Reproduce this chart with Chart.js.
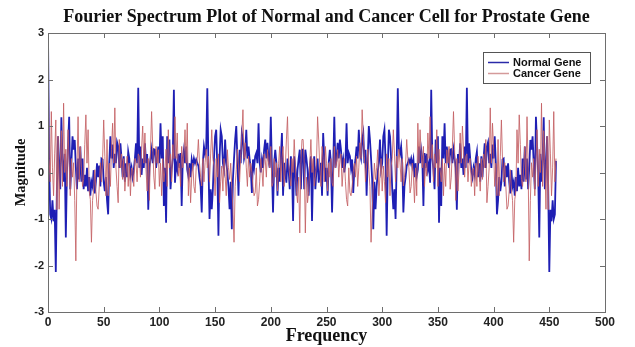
<!DOCTYPE html>
<html>
<head>
<meta charset="utf-8">
<script src="https://cdn.jsdelivr.net/npm/chart.js@4.4.1/dist/chart.umd.min.js"></script>
<style>
  html, body { margin: 0; padding: 0; background: #fff; }
  #wrap { width: 635px; height: 347px; }
</style>
</head>
<body>
<div id="wrap"><canvas id="chart" width="635" height="347"></canvas></div>
<script>
// values (sample index 0..456)
const normalGene = [
  2.95, 0.25, -0.9, -1.0, -0.6, -1.05, -0.8, -2.14, -0.3, 0.78,
  0.1, -0.36, 1.19, 0.3, -0.2, 0.4, -1.4, 0.0, 0.6, 1.2,
  -0.36, 0.2, 0.78, 0.49, 0.7, 0.1, -0.36, 0.3, -0.15, 0.56,
  -0.2, 0.3, -0.36, -0.05, -0.3, 0.1, -0.4, -0.1, -0.5, -0.2,
  -0.3, 0.05, -0.45, -0.2, 0.2, -0.1, 0.15, -0.3, 0.3, 0.28,
  -0.2, -0.4, -0.1, -0.6, -0.9, 0.2, 0.78, 0.3, 0.6, 0.1,
  0.4, 0.2, 0.65, 0.56, 0.1, 0.63, 0.3, -0.1, 0.35, -0.2,
  0.2, -0.1, 0.45, 0.3, -0.05, 0.1, -0.1, 0.05, 0.3, 0.63,
  0.2, 1.82, 0.1, 0.56, -0.05, 0.3, 0.1, 0.63, 0.2, 0.4,
  -0.8, 0.1, 0.3, 0.49, 0.2, 0.5, 0.49, 0.1, 0.3, 0.56,
  0.2, 1.06, 0.3, 0.78, -0.72, 0.1, -1.08, 0.78, 0.2, 0.71,
  -0.36, 0.06, 0.3, 1.78, -0.22, 0.2, 0.06, 0.4, 0.1, 0.42,
  -0.72, 0.3, 0.49, 0.2, 0.56, 0.06, -0.08, 0.2, -0.1, 0.28,
  0.14, 0.3, 0.2, 0.28, 0.21, 0.14, -0.1, -0.29, -0.86, 0.2,
  0.56, 0.4, 0.5, 1.81, 0.2, -1.0, -0.36, -0.79, -0.36, 0.3,
  0.78, 0.92, 0.1, -1.36, 0.3, 0.92, 0.78, 0.2, 0.06, 0.71,
  0.21, 0.0, -0.3, -0.79, -0.2, -1.22, -0.15, 0.3, 0.71, 1.0,
  0.3, -0.5, 0.49, 0.2, 0.85, 0.71, 0.3, 0.42, 0.92, 0.3,
  0.56, 0.28, 0.1, -0.44, 0.28, 0.1, 0.35, 0.42, 0.2, 1.06,
  0.21, 0.0, 0.28, 0.1, 0.49, 0.71, 0.3, 0.64, 0.28, 0.1,
  1.2, 0.1, -0.86, 0.2, 0.49, 0.21, -0.5, 0.1, -0.2, 0.3,
  0.85, -0.5, 0.21, 0.0, -0.22, 0.3, 0.06, -0.36, 0.35, 0.1,
  -1.04, 0.35, 0.1, -0.5, 0.06, 0.3, 0.49, -0.36, 0.49,
  0.49, -0.36, 0.49, 0.3, 0.06, -0.5, 0.1, 0.35, -1.04,
  0.1, 0.35, -0.36, 0.06, 0.3, -0.22, 0.0, 0.21, -0.5, 0.85,
  0.3, -0.2, 0.1, -0.5, 0.21, 0.49, 0.2, -0.86, 0.1, 1.2,
  0.1, 0.28, 0.64, 0.3, 0.71, 0.49, 0.1, 0.28, 0.0, 0.21,
  1.06, 0.2, 0.42, 0.35, 0.1, 0.28, -0.44, 0.1, 0.28, 0.56,
  0.3, 0.92, 0.42, 0.3, 0.71, 0.85, 0.2, 0.49, -0.5, 0.3,
  1.0, 0.71, 0.3, -0.15, -1.22, -0.2, -0.79, -0.3, 0.0, 0.21,
  0.71, 0.06, 0.2, 0.78, 0.92, 0.3, -1.36, 0.1, 0.92, 0.78,
  0.3, -0.36, -0.79, -0.36, -1.0, 0.2, 1.81, 0.5, 0.4, 0.56,
  0.2, -0.86, -0.29, -0.1, 0.14, 0.21, 0.28, 0.2, 0.3, 0.14,
  0.28, -0.1, 0.2, -0.08, 0.06, 0.56, 0.2, 0.49, 0.3, -0.72,
  0.42, 0.1, 0.4, 0.06, 0.2, -0.22, 1.78, 0.3, 0.06, -0.36,
  0.71, 0.2, 0.78, -1.08, 0.1, -0.72, 0.78, 0.3, 1.06, 0.2,
  0.56, 0.3, 0.1, 0.49, 0.5, 0.2, 0.49, 0.3, 0.1, -0.8,
  0.4, 0.2, 0.63, 0.1, 0.3, -0.05, 0.56, 0.1, 1.82, 0.2,
  0.63, 0.3, 0.05, -0.1, 0.1, -0.05, 0.3, 0.45, -0.1, 0.2,
  -0.2, 0.35, -0.1, 0.3, 0.63, 0.1, 0.56, 0.65, 0.2, 0.4,
  0.1, 0.6, 0.3, 0.78, 0.2, -0.9, -0.6, -0.1, -0.4, -0.2,
  0.28, 0.3, -0.3, 0.15, -0.1, 0.2, -0.2, -0.45, 0.05, -0.3,
  -0.2, -0.5, -0.1, -0.4, 0.1, -0.3, -0.05, -0.36, 0.3, -0.2,
  0.56, -0.15, 0.3, -0.36, 0.1, 0.7, 0.49, 0.78, 0.2, -0.36,
  1.2, 0.6, 0.0, -1.4, 0.4, -0.2, 0.3, 1.19, -0.36, 0.1,
  0.78, -0.3, -2.14, -0.8, -1.05, -0.6, -1.0, -0.9, 0.25
];

const cancerGene = [
  3.0, 0.3, -0.2, 1.31, 0.1, -0.5, 0.4, 1.13, -0.8, 0.78,
  -0.79, 0.2, 0.9, -0.3, 1.49, 0.0, 0.5, -0.3, 0.92, 0.2,
  -0.5, 0.3, -0.1, 0.21, -0.6, -1.9, 0.1, 1.2, -0.2, 0.56,
  0.1, -0.3, -0.15, 0.6, 1.24, 0.2, 0.92, -0.4, -0.58, -1.5,
  -0.6, -0.36, 0.06, -0.4, -0.72, -0.79, -0.3, 0.21, -0.2, 0.28,
  1.13, 0.35, -0.5, 0.71, -0.5, 0.2, -0.3, 0.5, 1.06, 0.2,
  1.39, 0.1, -0.3, -0.65, 0.71, 0.1, 0.4, -0.15, 0.3, -0.4,
  0.0, 0.35, -0.3, 0.2, -0.5, 0.1, 0.06, -0.3, 0.3, 0.21,
  -0.2, 0.4, 0.35, -0.1, 0.5, 1.0, 0.2, 0.85, 0.06, -0.4,
  0.3, -0.6, 0.5, 1.31, 0.56, -0.1, -0.36, 0.56, 0.2, 0.49,
  -0.3, 0.2, -0.5, 0.3, -0.2, 0.06, 0.5, -0.3, 0.92, 0.1,
  0.4, -0.2, 0.6, 0.3, 1.2, 0.3, 0.85, -0.08, 0.2, -0.3,
  0.56, 0.1, 0.4, 0.92, 0.2, 1.06, -0.5, 0.1, -0.65, -0.08,
  0.2, -0.3, -0.44, 0.1, 0.3, 0.71, 0.2, -0.1, -0.29, 0.3,
  -0.2, 0.21, 0.5, 0.1, 0.35, -0.2, 0.4, 0.92, 0.3, 0.14,
  -0.5, 0.3, -0.1, 0.4, -0.65, -0.2, 0.14, -0.4, 0.3, -0.08,
  -0.5, 0.49, 0.1, -0.15, 0.2, -0.29, -0.8, -1.5, -0.3, 0.06,
  0.5, 0.14, -0.2, 0.35, 0.8, 1.35, 0.3, 0.64, 0.1, -0.3,
  0.35, -0.1, 0.2, 0.0, -0.3, -0.5, -0.43, 0.1, -0.72, -0.58,
  -0.2, 0.3, 0.06, -0.3, 0.4, 0.28, -0.1, 0.49, 0.2, 0.1,
  0.56, -0.3, -0.22, 0.3, -0.1, 0.21, -0.4, 0.2, 0.56, -0.2,
  0.3, 0.56, -0.3, 0.1, 0.7, 1.2, 0.2, -0.1, -0.29, 0.3,
  0.0, 0.71, 0.2, -0.4, -0.65, -0.1, -1.3, 0.2, 0.71,
  0.71, 0.2, -1.3, -0.1, -0.65, -0.4, 0.2, 0.71, 0.0,
  0.3, -0.29, -0.1, 0.2, 1.2, 0.7, 0.1, -0.3, 0.56, 0.3,
  -0.2, 0.56, 0.2, -0.4, 0.21, -0.1, 0.3, -0.22, -0.3, 0.56,
  0.1, 0.2, 0.49, -0.1, 0.28, 0.4, -0.3, 0.06, 0.3, -0.2,
  -0.58, -0.72, 0.1, -0.43, -0.5, -0.3, 0.0, 0.2, -0.1, 0.35,
  -0.3, 0.1, 0.64, 0.3, 1.35, 0.8, 0.35, -0.2, 0.14, 0.5,
  0.06, -0.3, -1.5, -0.8, -0.29, 0.2, -0.15, 0.1, 0.49, -0.5,
  -0.08, 0.3, -0.4, 0.14, -0.2, -0.65, 0.4, -0.1, 0.3, -0.5,
  0.14, 0.3, 0.92, 0.4, -0.2, 0.35, 0.1, 0.5, 0.21, -0.2,
  0.3, -0.29, -0.1, 0.2, 0.71, 0.3, 0.1, -0.44, -0.3, 0.2,
  -0.08, -0.65, 0.1, -0.5, 1.06, 0.2, 0.92, 0.4, 0.1, 0.56,
  -0.3, 0.2, -0.08, 0.85, 0.3, 1.2, 0.3, 0.6, -0.2, 0.4,
  0.1, 0.92, -0.3, 0.5, 0.06, -0.2, 0.3, -0.5, 0.2, -0.3,
  0.49, 0.2, 0.56, -0.36, -0.1, 0.56, 1.31, 0.5, -0.6, 0.3,
  -0.4, 0.06, 0.85, 0.2, 1.0, 0.5, -0.1, 0.35, 0.4, -0.2,
  0.21, 0.3, -0.3, 0.06, 0.1, -0.5, 0.2, -0.3, 0.35, 0.0,
  -0.4, 0.3, -0.15, 0.4, 0.1, 0.71, -0.65, -0.3, 0.1, 1.39,
  0.2, 1.06, 0.5, -0.3, 0.2, -0.5, 0.71, -0.5, 0.35, 1.13,
  0.28, -0.2, 0.21, -0.3, -0.79, -0.72, -0.4, 0.06, -0.36, -0.6,
  -1.5, -0.58, -0.4, 0.92, 0.2, 1.24, 0.6, -0.15, -0.3, 0.1,
  0.56, -0.2, 1.2, 0.1, -1.9, -0.6, 0.21, -0.1, 0.3, -0.5,
  0.2, 0.92, -0.3, 0.5, 0.0, 1.49, -0.3, 0.9, 0.2, -0.79,
  0.78, -0.8, 1.13, 0.4, -0.5, 0.1, 1.31, -0.2, 0.3
];

const xTicks = [0, 50, 100, 150, 200, 250, 300, 350, 400, 450, 500];
const yTicks = [-3, -2, -1, 0, 1, 2, 3];

const seriesNames = ['Normal Gene', 'Cancer Gene'];
const chartTitle = 'Fourier Spectrum Plot of Normal and Cancer Cell for Prostate Gene';
const frameColor = '#6e6e6e';
const serif = '"Liberation Serif", "Times New Roman", serif';
const sans = '"Liberation Sans", Arial, sans-serif';

// MATLAB style box with inward ticks, title over the axes and a boxed legend
const matlabFrame = {
  id: 'matlabFrame',
  afterDraw(chart) {
    const { ctx, chartArea: a, scales } = chart;
    ctx.save();
    ctx.strokeStyle = frameColor;
    ctx.lineWidth = 1;
    ctx.strokeRect(a.left + 0.5, a.top + 0.5, a.right - a.left, a.bottom - a.top);
    const tl = 5;
    ctx.beginPath();
    xTicks.forEach(v => {
      const px = Math.round(scales.x.getPixelForValue(v)) + 0.5;
      ctx.moveTo(px, a.bottom); ctx.lineTo(px, a.bottom - tl);
      ctx.moveTo(px, a.top); ctx.lineTo(px, a.top + tl);
    });
    yTicks.forEach(v => {
      const py = Math.round(scales.y.getPixelForValue(v)) + 0.5;
      ctx.moveTo(a.left, py); ctx.lineTo(a.left + tl, py);
      ctx.moveTo(a.right, py); ctx.lineTo(a.right - tl, py);
    });
    ctx.stroke();

    // title, centred over the axes like MATLAB does
    ctx.fillStyle = '#111';
    ctx.font = 'bold 18px ' + serif;
    ctx.textAlign = 'center';
    ctx.textBaseline = 'middle';
    ctx.fillText(chartTitle, (a.left + a.right) / 2, 17);

    // legend
    const bx = 483, by = 52, bw = 107, bh = 31;
    ctx.fillStyle = '#fff';
    ctx.fillRect(bx, by, bw, bh);
    ctx.strokeStyle = '#555';
    ctx.strokeRect(bx + 0.5, by + 0.5, bw, bh);
    ctx.font = 'bold 11px ' + sans;
    ctx.textAlign = 'left';
    chart.data.datasets.forEach((ds, i) => {
      const y = by + 10.5 + i * 11;
      ctx.strokeStyle = ds.legendColor;
      ctx.lineWidth = 1.5;
      ctx.beginPath();
      ctx.moveTo(bx + 5, y); ctx.lineTo(bx + 26, y);
      ctx.stroke();
      ctx.fillStyle = '#111';
      ctx.fillText(ds.label, bx + 30, y);
    });
    ctx.restore();
  }
};

const ctx = document.getElementById('chart').getContext('2d');
new Chart(ctx, {
  type: 'line',
  data: {
    datasets: [
      {
        label: seriesNames[0],
        data: normalGene.map((v, i) => ({ x: i, y: v })),
        borderColor: '#1f1fb4',
        legendColor: '#2a2aa8',
        borderWidth: 1.8,
        pointRadius: 0,
        tension: 0,
        order: 2
      },
      {
        label: seriesNames[1],
        data: cancerGene.map((v, i) => ({ x: i, y: v })),
        borderColor: 'rgba(196, 96, 100, 0.85)',
        legendColor: '#d49a9a',
        borderWidth: 1,
        pointRadius: 0,
        tension: 0,
        order: 1
      }
    ]
  },
  options: {
    responsive: false,
    animation: false,
    layout: { padding: { top: 33, right: 30 } },
    plugins: {
      legend: { display: false },
      tooltip: { enabled: false },
      title: { display: false }
    },
    scales: {
      x: {
        type: 'linear',
        min: 0,
        max: 500,
        afterFit: s => { s.height = 35; },
        afterBuildTicks: s => { s.ticks = xTicks.map(v => ({ value: v })); },
        ticks: {
          color: '#222',
          padding: 3,
          font: { family: sans, size: 12, weight: 'bold' }
        },
        grid: { drawOnChartArea: false, drawTicks: false },
        border: { display: false },
        title: {
          display: true,
          text: 'Frequency',
          color: '#111',
          font: { family: serif, size: 18, weight: 'bold' },
          padding: { top: 0, bottom: 0 }
        }
      },
      y: {
        min: -3,
        max: 3,
        afterFit: s => { s.width = 48; },
        afterBuildTicks: s => { s.ticks = yTicks.map(v => ({ value: v })); },
        ticks: {
          color: '#222',
          padding: 4,
          font: { family: sans, size: 11, weight: 'bold' }
        },
        grid: { drawOnChartArea: false, drawTicks: false },
        border: { display: false },
        title: {
          display: true,
          text: 'Magnitude',
          color: '#111',
          font: { family: serif, size: 14.5, weight: 'bold' },
          padding: { top: 13, bottom: 0 }
        }
      }
    }
  },
  plugins: [matlabFrame]
});
</script>
</body>
</html>
